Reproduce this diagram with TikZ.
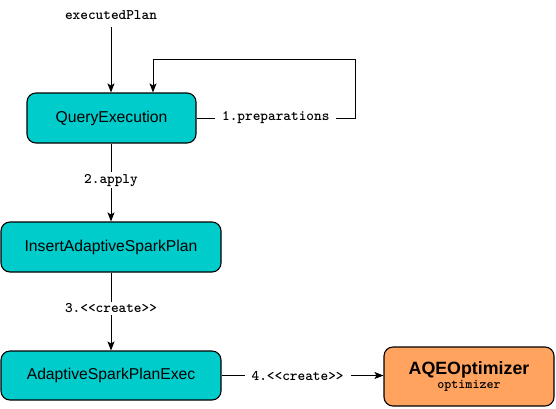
\documentclass[tikz,border=0pt]{standalone}
\usepackage{fontspec}
\setmainfont{Liberation Sans}
\usetikzlibrary{arrows.meta}
\definecolor{teal1}{HTML}{00CCCC}
\definecolor{orange1}{HTML}{FFA35E}
\begin{document}
\begin{tikzpicture}[x=1pt,y=-1pt,
  box/.style={draw=black,line width=1.1pt,rounded corners=9pt,fill=teal1,font=\fontsize{15.7}{18}\selectfont,inner sep=0pt},
  obox/.style={draw=black,line width=1.1pt,rounded corners=9pt,fill=orange1,inner sep=0pt},
  lbl/.style={fill=white,font=\ttfamily\bfseries\fontsize{14.6}{16}\selectfont,inner xsep=7pt,inner ysep=2pt},
  arr/.style={draw=black,line width=0.9pt,-{Stealth[length=9pt,width=7pt,inset=2pt]}},
  ln/.style={draw=black,line width=0.9pt}]
\useasboundingbox (0,0) rectangle (556,408);
\node[font=\ttfamily\bfseries\fontsize{14.6}{16}\selectfont] (ep) at (111,15) {executedPlan};
\coordinate (eps) at (111,27);
\node[box,minimum width=169,minimum height=50] (qe) at (111.5,118) {QueryExecution};
\node[box,minimum width=220,minimum height=50] (isp) at (111,247) {InsertAdaptiveSparkPlan};
\node[box,minimum width=220,minimum height=49] (aspe) at (111,375.5) {AdaptiveSparkPlanExec};
\node[obox,minimum width=170,minimum height=59,align=center] (aqe) at (469,376.5)
  {{\bfseries\fontsize{17.8}{20}\selectfont AQEOptimizer}\\[2pt]{\ttfamily\bfseries\fontsize{13.4}{14}\selectfont optimizer}};
\coordinate (c1) at (355,118);
\coordinate (c2) at (153,59);
\draw[arr] (eps) -- (qe.north -| eps);
\draw[arr] (qe.east) -- node[lbl]{1.preparations} (c1) |- (c2) -- (c2 |- qe.north);
\draw[arr] (qe.south -| isp.north) -- node[lbl,pos=0.47]{2.apply} (isp.north);
\draw[arr] (isp.south) -- node[lbl,pos=0.46]{3.<{}<create>{}>} (aspe.north);
\draw[arr] (aspe.east) -- node[lbl,pos=0.47]{4.<{}<create>{}>} (aspe.east -| aqe.west);
\end{tikzpicture}
\end{document}
